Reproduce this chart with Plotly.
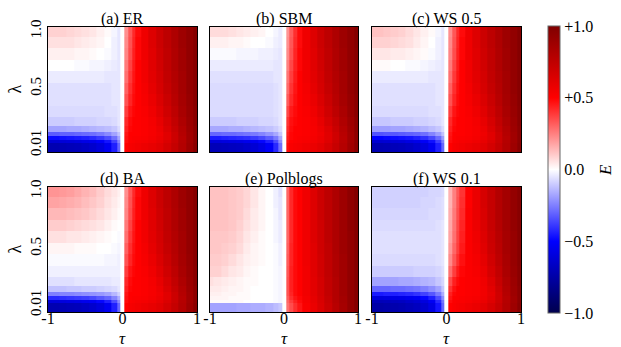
import plotly.graph_objects as go

# ---- data -------------------------------------------------------------
TAU = [-1.0, -0.9, -0.8, -0.7, -0.6, -0.5, -0.4, -0.3, -0.2, -0.1, -0.05, 0.0,
       0.05, 0.1, 0.15, 0.2, 0.3, 0.4, 0.5, 0.6, 0.7, 0.8, 0.9, 1.0]
LAMBDA = [0.01, 0.04, 0.07, 0.1, 0.15, 0.2, 0.3, 0.4, 0.5, 0.6, 0.7, 0.8, 0.9, 1.0]

TITLES = ["(a) ER", "(b) SBM", "(c) WS 0.5", "(d) BA", "(e) Polblogs", "(f) WS 0.1"]
X_TICKS = [-1, 0, 1]
X_TICK_TEXT = ["-1", "0", "1"]
Y_TICKS = [0.01, 0.5, 1.0]
Y_TICK_TEXT = ["0.01", "0.5", "1.0"]
CB_TICKS = [-1.0, -0.5, 0.0, 0.5, 1.0]
CB_TICK_TEXT = ["\u22121.0", "\u22120.5", "0.0", "+0.5", "+1.0"]

# rows: lambda ascending (0.01 ... 1.0); columns: TAU
E_ER = [
    [-0.72,-0.72,-0.71,-0.70,-0.69,-0.67,-0.64,-0.60,-0.54,-0.44,-0.30,0, 0.50,0.53,0.54,0.55,0.57,0.59,0.62,0.67,0.73,0.80,0.88,0.96],
    [-0.62,-0.62,-0.61,-0.60,-0.59,-0.57,-0.55,-0.51,-0.46,-0.37,-0.24,0, 0.48,0.51,0.52,0.53,0.54,0.56,0.59,0.64,0.71,0.79,0.87,0.95],
    [-0.48,-0.48,-0.47,-0.46,-0.45,-0.44,-0.42,-0.39,-0.35,-0.28,-0.18,0, 0.47,0.50,0.51,0.51,0.52,0.54,0.57,0.62,0.70,0.78,0.87,0.95],
    [-0.32,-0.32,-0.31,-0.31,-0.30,-0.29,-0.28,-0.26,-0.23,-0.18,-0.12,0, 0.46,0.50,0.50,0.50,0.51,0.53,0.56,0.62,0.70,0.79,0.87,0.95],
    [-0.18,-0.18,-0.18,-0.17,-0.17,-0.16,-0.15,-0.14,-0.13,-0.11,-0.07,0, 0.44,0.49,0.50,0.50,0.51,0.53,0.57,0.64,0.72,0.80,0.88,0.95],
    [-0.10,-0.10,-0.10,-0.10,-0.09,-0.09,-0.09,-0.08,-0.08,-0.07,-0.05,0, 0.42,0.48,0.50,0.50,0.51,0.54,0.59,0.66,0.74,0.82,0.89,0.96],
    [-0.07,-0.07,-0.07,-0.07,-0.07,-0.07,-0.07,-0.07,-0.06,-0.06,-0.05,0, 0.38,0.46,0.49,0.50,0.52,0.56,0.62,0.69,0.76,0.84,0.90,0.96],
    [-0.06,-0.06,-0.06,-0.06,-0.06,-0.06,-0.06,-0.06,-0.06,-0.05,-0.05,0, 0.34,0.43,0.48,0.50,0.53,0.58,0.64,0.71,0.78,0.85,0.91,0.97],
    [-0.06,-0.06,-0.06,-0.06,-0.06,-0.06,-0.06,-0.06,-0.06,-0.05,-0.05,0, 0.31,0.41,0.47,0.50,0.54,0.60,0.66,0.73,0.79,0.86,0.92,0.97],
    [-0.04,-0.04,-0.04,-0.04,-0.04,-0.04,-0.04,-0.04,-0.05,-0.05,-0.05,0, 0.28,0.39,0.46,0.50,0.55,0.61,0.67,0.74,0.80,0.86,0.92,0.97],
    [ 0.00, 0.00, 0.00, 0.00,-0.01,-0.01,-0.02,-0.02,-0.03,-0.04,-0.05,0, 0.26,0.37,0.45,0.50,0.55,0.62,0.68,0.75,0.81,0.87,0.92,0.97],
    [ 0.03, 0.03, 0.03, 0.03, 0.02, 0.02, 0.01, 0.00,-0.01,-0.03,-0.05,0, 0.24,0.35,0.44,0.49,0.56,0.62,0.69,0.75,0.81,0.87,0.93,0.98],
    [ 0.06, 0.06, 0.06, 0.06, 0.05, 0.04, 0.03, 0.02, 0.00,-0.03,-0.05,0, 0.23,0.34,0.43,0.49,0.56,0.63,0.70,0.76,0.82,0.88,0.93,0.98],
    [ 0.09, 0.09, 0.09, 0.08, 0.07, 0.06, 0.05, 0.03, 0.01,-0.02,-0.05,0, 0.22,0.33,0.42,0.48,0.56,0.63,0.70,0.76,0.82,0.88,0.93,0.98],
]

E_SBM = [
    [-0.70,-0.70,-0.69,-0.68,-0.67,-0.65,-0.62,-0.58,-0.52,-0.42,-0.28,0, 0.48,0.52,0.53,0.54,0.56,0.58,0.61,0.66,0.72,0.79,0.87,0.95],
    [-0.60,-0.60,-0.59,-0.58,-0.57,-0.55,-0.53,-0.49,-0.44,-0.35,-0.22,0, 0.46,0.50,0.51,0.52,0.53,0.55,0.58,0.63,0.70,0.78,0.86,0.94],
    [-0.45,-0.45,-0.44,-0.43,-0.42,-0.41,-0.39,-0.36,-0.32,-0.26,-0.17,0, 0.45,0.49,0.50,0.51,0.52,0.54,0.57,0.62,0.69,0.77,0.86,0.94],
    [-0.30,-0.30,-0.29,-0.29,-0.28,-0.27,-0.26,-0.24,-0.21,-0.17,-0.11,0, 0.44,0.49,0.50,0.50,0.51,0.53,0.56,0.62,0.69,0.78,0.86,0.94],
    [-0.17,-0.17,-0.17,-0.16,-0.16,-0.15,-0.14,-0.13,-0.12,-0.10,-0.07,0, 0.42,0.48,0.50,0.50,0.51,0.53,0.57,0.63,0.71,0.79,0.87,0.95],
    [-0.10,-0.10,-0.10,-0.10,-0.09,-0.09,-0.09,-0.08,-0.08,-0.07,-0.05,0, 0.40,0.47,0.49,0.50,0.51,0.54,0.59,0.66,0.73,0.81,0.88,0.95],
    [-0.07,-0.07,-0.07,-0.07,-0.07,-0.07,-0.07,-0.07,-0.07,-0.06,-0.05,0, 0.36,0.45,0.48,0.50,0.52,0.56,0.62,0.69,0.76,0.83,0.90,0.96],
    [-0.07,-0.07,-0.07,-0.07,-0.07,-0.07,-0.07,-0.07,-0.07,-0.06,-0.05,0, 0.32,0.42,0.47,0.50,0.53,0.58,0.64,0.71,0.78,0.85,0.91,0.96],
    [-0.07,-0.07,-0.07,-0.07,-0.07,-0.07,-0.07,-0.07,-0.07,-0.06,-0.05,0, 0.29,0.40,0.46,0.50,0.54,0.60,0.66,0.73,0.79,0.86,0.92,0.97],
    [-0.06,-0.06,-0.06,-0.06,-0.06,-0.06,-0.06,-0.06,-0.06,-0.05,-0.05,0, 0.27,0.38,0.45,0.50,0.55,0.61,0.67,0.74,0.80,0.86,0.92,0.97],
    [-0.04,-0.04,-0.04,-0.04,-0.04,-0.04,-0.04,-0.04,-0.04,-0.05,-0.05,0, 0.25,0.36,0.44,0.49,0.55,0.62,0.68,0.75,0.81,0.87,0.92,0.97],
    [-0.01,-0.01,-0.01,-0.01,-0.02,-0.02,-0.02,-0.03,-0.03,-0.04,-0.05,0, 0.23,0.34,0.43,0.49,0.56,0.62,0.69,0.75,0.81,0.87,0.93,0.97],
    [ 0.03, 0.03, 0.03, 0.02, 0.02, 0.01, 0.00, 0.00,-0.01,-0.03,-0.04,0, 0.22,0.33,0.42,0.48,0.56,0.63,0.70,0.76,0.82,0.88,0.93,0.98],
    [ 0.07, 0.07, 0.07, 0.06, 0.05, 0.04, 0.03, 0.02, 0.00,-0.02,-0.04,0, 0.21,0.32,0.41,0.48,0.56,0.63,0.70,0.76,0.82,0.88,0.93,0.98],
]

E_WS05 = [
    [-0.72,-0.72,-0.71,-0.70,-0.69,-0.67,-0.64,-0.60,-0.54,-0.44,-0.30,0, 0.50,0.53,0.54,0.55,0.57,0.59,0.62,0.67,0.73,0.80,0.88,0.96],
    [-0.63,-0.63,-0.62,-0.61,-0.60,-0.58,-0.56,-0.52,-0.47,-0.38,-0.25,0, 0.48,0.51,0.52,0.53,0.54,0.56,0.59,0.64,0.71,0.79,0.87,0.95],
    [-0.50,-0.50,-0.49,-0.48,-0.47,-0.46,-0.44,-0.41,-0.36,-0.29,-0.19,0, 0.47,0.50,0.51,0.51,0.52,0.54,0.57,0.62,0.70,0.78,0.87,0.95],
    [-0.34,-0.34,-0.33,-0.33,-0.32,-0.31,-0.30,-0.28,-0.24,-0.19,-0.12,0, 0.46,0.50,0.50,0.50,0.51,0.53,0.56,0.62,0.70,0.79,0.87,0.95],
    [-0.19,-0.19,-0.19,-0.18,-0.18,-0.17,-0.16,-0.15,-0.13,-0.11,-0.07,0, 0.44,0.49,0.50,0.50,0.51,0.53,0.57,0.64,0.72,0.80,0.88,0.95],
    [-0.11,-0.11,-0.11,-0.10,-0.10,-0.10,-0.09,-0.09,-0.08,-0.07,-0.05,0, 0.42,0.48,0.50,0.50,0.51,0.54,0.59,0.66,0.74,0.82,0.89,0.96],
    [-0.07,-0.07,-0.07,-0.07,-0.07,-0.07,-0.07,-0.07,-0.06,-0.06,-0.05,0, 0.38,0.46,0.49,0.50,0.52,0.56,0.62,0.69,0.76,0.84,0.90,0.96],
    [-0.06,-0.06,-0.06,-0.06,-0.06,-0.06,-0.06,-0.06,-0.06,-0.05,-0.05,0, 0.34,0.43,0.48,0.50,0.53,0.58,0.64,0.71,0.78,0.85,0.91,0.97],
    [-0.06,-0.06,-0.06,-0.06,-0.06,-0.06,-0.06,-0.06,-0.06,-0.05,-0.05,0, 0.31,0.41,0.47,0.50,0.54,0.60,0.66,0.73,0.79,0.86,0.92,0.97],
    [-0.04,-0.04,-0.04,-0.04,-0.04,-0.04,-0.04,-0.04,-0.05,-0.05,-0.05,0, 0.28,0.39,0.46,0.50,0.55,0.61,0.67,0.74,0.80,0.86,0.92,0.97],
    [ 0.01, 0.01, 0.01, 0.00, 0.00,-0.01,-0.01,-0.02,-0.03,-0.04,-0.05,0, 0.26,0.37,0.45,0.50,0.55,0.62,0.68,0.75,0.81,0.87,0.92,0.97],
    [ 0.05, 0.05, 0.05, 0.04, 0.04, 0.03, 0.02, 0.01,-0.01,-0.03,-0.05,0, 0.24,0.35,0.44,0.49,0.56,0.62,0.69,0.75,0.81,0.87,0.93,0.98],
    [ 0.09, 0.09, 0.09, 0.08, 0.07, 0.06, 0.04, 0.02, 0.00,-0.03,-0.05,0, 0.23,0.34,0.43,0.49,0.56,0.63,0.70,0.76,0.82,0.88,0.93,0.98],
    [ 0.12, 0.12, 0.11, 0.10, 0.09, 0.07, 0.05, 0.03, 0.01,-0.02,-0.05,0, 0.22,0.33,0.42,0.48,0.56,0.63,0.70,0.76,0.82,0.88,0.93,0.98],
]

E_BA = [
    [-0.72,-0.72,-0.71,-0.70,-0.69,-0.67,-0.64,-0.60,-0.54,-0.44,-0.30,0, 0.50,0.53,0.54,0.55,0.57,0.59,0.62,0.67,0.73,0.80,0.88,0.96],
    [-0.60,-0.60,-0.59,-0.58,-0.57,-0.55,-0.53,-0.49,-0.44,-0.35,-0.23,0, 0.48,0.51,0.52,0.53,0.54,0.56,0.59,0.64,0.71,0.79,0.87,0.95],
    [-0.42,-0.42,-0.41,-0.40,-0.39,-0.38,-0.36,-0.33,-0.30,-0.24,-0.16,0, 0.47,0.50,0.51,0.51,0.52,0.54,0.57,0.62,0.70,0.78,0.87,0.95],
    [-0.25,-0.25,-0.24,-0.24,-0.23,-0.22,-0.21,-0.20,-0.18,-0.14,-0.09,0, 0.46,0.50,0.50,0.50,0.51,0.53,0.56,0.62,0.70,0.79,0.87,0.95],
    [-0.12,-0.12,-0.12,-0.11,-0.11,-0.10,-0.10,-0.09,-0.08,-0.07,-0.05,0, 0.44,0.49,0.50,0.50,0.51,0.53,0.57,0.64,0.72,0.80,0.88,0.95],
    [-0.06,-0.06,-0.06,-0.06,-0.05,-0.05,-0.05,-0.05,-0.05,-0.04,-0.04,0, 0.42,0.48,0.50,0.50,0.51,0.54,0.59,0.66,0.74,0.82,0.89,0.96],
    [-0.03,-0.03,-0.03,-0.03,-0.03,-0.03,-0.03,-0.03,-0.03,-0.03,-0.03,0, 0.38,0.46,0.49,0.50,0.52,0.56,0.62,0.69,0.76,0.84,0.90,0.96],
    [-0.01,-0.01,-0.01,-0.01,-0.01,-0.01,-0.01,-0.01,-0.02,-0.02,-0.03,0, 0.34,0.43,0.48,0.50,0.53,0.58,0.64,0.71,0.78,0.85,0.91,0.97],
    [ 0.02, 0.02, 0.02, 0.02, 0.01, 0.01, 0.01, 0.00, 0.00,-0.01,-0.02,0, 0.31,0.41,0.47,0.50,0.54,0.60,0.66,0.73,0.79,0.86,0.92,0.97],
    [ 0.06, 0.06, 0.06, 0.05, 0.05, 0.04, 0.03, 0.02, 0.01, 0.00,-0.01,0, 0.28,0.39,0.46,0.50,0.55,0.61,0.67,0.74,0.80,0.86,0.92,0.97],
    [ 0.10, 0.10, 0.10, 0.09, 0.08, 0.07, 0.06, 0.05, 0.03, 0.01, 0.00,0, 0.26,0.37,0.45,0.50,0.55,0.62,0.68,0.75,0.81,0.87,0.92,0.97],
    [ 0.14, 0.14, 0.14, 0.13, 0.12, 0.11, 0.09, 0.07, 0.05, 0.03, 0.01,0, 0.24,0.35,0.44,0.49,0.56,0.62,0.69,0.75,0.81,0.87,0.93,0.98],
    [ 0.18, 0.18, 0.17, 0.16, 0.15, 0.13, 0.11, 0.09, 0.06, 0.04, 0.02,0, 0.23,0.34,0.43,0.49,0.56,0.63,0.70,0.76,0.82,0.88,0.93,0.98],
    [ 0.21, 0.21, 0.20, 0.19, 0.17, 0.15, 0.13, 0.10, 0.07, 0.05, 0.03,0, 0.22,0.33,0.42,0.48,0.56,0.63,0.70,0.76,0.82,0.88,0.93,0.98],
]

E_POLBLOGS = [
    [-0.18,-0.18,-0.18,-0.18,-0.17,-0.17,-0.16,-0.16,-0.15,-0.13,-0.11,0, 0.28,0.35,0.41,0.46,0.52,0.58,0.64,0.71,0.78,0.85,0.92,0.98],
    [ 0.01, 0.01, 0.01, 0.01, 0.01, 0.00, 0.00, 0.00, 0.00,-0.01,-0.02,0, 0.30,0.38,0.44,0.48,0.53,0.59,0.65,0.72,0.79,0.86,0.92,0.98],
    [ 0.02, 0.02, 0.02, 0.01, 0.01, 0.01, 0.00, 0.00, 0.00,-0.01,-0.02,0, 0.32,0.41,0.46,0.49,0.54,0.60,0.66,0.73,0.80,0.86,0.93,0.98],
    [ 0.03, 0.03, 0.02, 0.02, 0.01, 0.01, 0.00, 0.00, 0.00,-0.01,-0.02,0, 0.34,0.43,0.48,0.50,0.55,0.61,0.67,0.74,0.80,0.87,0.93,0.98],
    [ 0.04, 0.04, 0.03, 0.02, 0.02, 0.01, 0.00, 0.00, 0.00,-0.01,-0.02,0, 0.34,0.44,0.48,0.50,0.55,0.61,0.67,0.74,0.80,0.87,0.93,0.98],
    [ 0.06, 0.05, 0.04, 0.03, 0.02, 0.01, 0.01, 0.00, 0.00,-0.01,-0.02,0, 0.34,0.44,0.48,0.50,0.55,0.61,0.67,0.74,0.80,0.87,0.93,0.98],
    [ 0.09, 0.09, 0.07, 0.05, 0.04, 0.02, 0.01, 0.00, 0.00,-0.01,-0.02,0, 0.33,0.44,0.48,0.50,0.55,0.62,0.68,0.75,0.81,0.87,0.93,0.98],
    [ 0.10, 0.10, 0.09, 0.07, 0.05, 0.03, 0.02, 0.01, 0.00,-0.01,-0.03,0, 0.32,0.43,0.48,0.50,0.56,0.62,0.68,0.75,0.81,0.87,0.93,0.98],
    [ 0.11, 0.11, 0.10, 0.09, 0.07, 0.04, 0.02, 0.01, 0.00,-0.01,-0.03,0, 0.31,0.43,0.48,0.50,0.56,0.62,0.69,0.75,0.82,0.88,0.93,0.98],
    [ 0.11, 0.11, 0.11, 0.10, 0.08, 0.05, 0.03, 0.01, 0.00,-0.02,-0.04,0, 0.30,0.42,0.48,0.50,0.56,0.63,0.69,0.76,0.82,0.88,0.93,0.98],
    [ 0.12, 0.12, 0.12, 0.11, 0.09, 0.06, 0.04, 0.02, 0.00,-0.02,-0.04,0, 0.30,0.42,0.48,0.50,0.56,0.63,0.69,0.76,0.82,0.88,0.94,0.98],
    [ 0.12, 0.12, 0.12, 0.11, 0.10, 0.07, 0.04, 0.02, 0.00,-0.02,-0.05,0, 0.30,0.42,0.48,0.50,0.56,0.63,0.70,0.76,0.82,0.88,0.94,0.99],
    [ 0.12, 0.12, 0.12, 0.11, 0.10, 0.08, 0.05, 0.02, 0.00,-0.03,-0.05,0, 0.30,0.42,0.48,0.50,0.56,0.63,0.70,0.76,0.82,0.88,0.94,0.99],
    [ 0.12, 0.12, 0.12, 0.11, 0.10, 0.08, 0.05, 0.02, 0.00,-0.03,-0.06,0, 0.30,0.42,0.48,0.50,0.56,0.63,0.70,0.76,0.82,0.88,0.94,0.99],
]

E_WS01 = [
    [-0.75,-0.75,-0.74,-0.73,-0.72,-0.70,-0.68,-0.64,-0.58,-0.46,-0.30,0, 0.50,0.52,0.53,0.54,0.56,0.58,0.61,0.66,0.72,0.80,0.88,0.96],
    [-0.70,-0.70,-0.69,-0.68,-0.67,-0.65,-0.63,-0.59,-0.53,-0.42,-0.27,0, 0.48,0.51,0.52,0.52,0.53,0.55,0.58,0.63,0.70,0.79,0.87,0.95],
    [-0.60,-0.60,-0.59,-0.58,-0.57,-0.55,-0.53,-0.49,-0.44,-0.35,-0.22,0, 0.46,0.50,0.50,0.51,0.52,0.53,0.56,0.61,0.69,0.78,0.87,0.95],
    [-0.45,-0.45,-0.44,-0.44,-0.43,-0.42,-0.40,-0.37,-0.33,-0.26,-0.16,0, 0.44,0.49,0.50,0.50,0.51,0.52,0.55,0.60,0.69,0.79,0.88,0.95],
    [-0.30,-0.30,-0.30,-0.29,-0.29,-0.28,-0.27,-0.25,-0.22,-0.18,-0.11,0, 0.40,0.47,0.50,0.50,0.51,0.52,0.55,0.61,0.70,0.80,0.88,0.95],
    [-0.18,-0.18,-0.18,-0.18,-0.17,-0.17,-0.16,-0.15,-0.14,-0.11,-0.08,0, 0.35,0.44,0.48,0.50,0.51,0.52,0.56,0.63,0.72,0.81,0.89,0.96],
    [-0.10,-0.10,-0.10,-0.10,-0.10,-0.10,-0.09,-0.09,-0.09,-0.08,-0.06,0, 0.28,0.38,0.45,0.49,0.51,0.53,0.58,0.66,0.74,0.83,0.90,0.96],
    [-0.07,-0.07,-0.07,-0.07,-0.07,-0.07,-0.07,-0.07,-0.07,-0.06,-0.05,0, 0.23,0.33,0.41,0.47,0.51,0.54,0.60,0.68,0.76,0.84,0.91,0.97],
    [-0.06,-0.06,-0.06,-0.06,-0.06,-0.06,-0.06,-0.06,-0.06,-0.06,-0.05,0, 0.20,0.30,0.38,0.45,0.51,0.55,0.62,0.70,0.77,0.85,0.91,0.97],
    [-0.06,-0.06,-0.06,-0.06,-0.06,-0.06,-0.06,-0.06,-0.06,-0.06,-0.05,0, 0.18,0.28,0.37,0.44,0.51,0.56,0.63,0.71,0.78,0.85,0.91,0.97],
    [-0.07,-0.07,-0.07,-0.07,-0.07,-0.07,-0.07,-0.07,-0.07,-0.06,-0.05,0, 0.17,0.27,0.36,0.43,0.51,0.57,0.64,0.72,0.79,0.86,0.92,0.97],
    [-0.08,-0.08,-0.08,-0.08,-0.08,-0.08,-0.08,-0.08,-0.07,-0.07,-0.06,0, 0.16,0.26,0.35,0.42,0.51,0.58,0.65,0.73,0.80,0.86,0.92,0.97],
    [-0.09,-0.09,-0.09,-0.09,-0.09,-0.09,-0.09,-0.08,-0.08,-0.07,-0.06,0, 0.15,0.25,0.34,0.41,0.50,0.58,0.66,0.73,0.80,0.86,0.92,0.97],
    [-0.09,-0.09,-0.09,-0.09,-0.09,-0.09,-0.09,-0.09,-0.08,-0.08,-0.07,0, 0.15,0.25,0.33,0.40,0.50,0.58,0.66,0.73,0.80,0.86,0.92,0.97],
]

PANELS = [E_ER, E_SBM, E_WS05, E_BA, E_POLBLOGS, E_WS01]

# ---- layout helpers (pixel geometry of the page) ----------------------
W, H = 621, 347
COL_PX = [(48, 197), (210, 358), (372, 521)]
ROW_PX = [(27, 152), (187, 312)]
Y_LO, Y_HI = -0.05, 1.035

def px_x(p):
    return p / W

def px_y(p):
    return 1 - p / H

# row edges for the heatmap cells
mids = [(a + b) / 2 for a, b in zip(LAMBDA[:-1], LAMBDA[1:])]
Y_EDGES = [Y_LO] + mids + [Y_HI]

SEISMIC = [[0.0, "rgb(0,0,77)"], [0.25, "rgb(0,0,255)"], [0.5, "rgb(255,255,255)"],
           [0.75, "rgb(255,0,0)"], [1.0, "rgb(128,0,0)"]]

FONT = "Liberation Serif"

fig = go.Figure()
annotations = []
for i, z in enumerate(PANELS):
    r, c = divmod(i, 3)
    ax = "" if i == 0 else str(i + 1)
    fig.add_trace(go.Heatmap(
        x=TAU, y=Y_EDGES, z=z, coloraxis="coloraxis",
        xaxis="x" + ax, yaxis="y" + ax, hoverinfo="skip"))
    x0, x1 = COL_PX[c]
    y0, y1 = ROW_PX[r]
    xa = dict(domain=[px_x(x0), px_x(x1)], range=[-1, 1], anchor="y" + ax,
              showline=True, mirror=True, linecolor="black", linewidth=1,
              showgrid=False, zeroline=False, ticks="",
              tickvals=X_TICKS, ticktext=X_TICK_TEXT,
              showticklabels=(r == 1), automargin=False, ticklabelstandoff=-8,
              tickfont=dict(family=FONT, size=16, color="black"))
    ya = dict(domain=[px_y(y1), px_y(y0)], range=[Y_LO, Y_HI], anchor="x" + ax,
              showline=True, mirror=True, linecolor="black", linewidth=1,
              showgrid=False, zeroline=False, ticks="",
              tickvals=Y_TICKS, ticktext=Y_TICK_TEXT, tickangle=-90,
              showticklabels=(c == 0), automargin=False,
              tickfont=dict(family=FONT, size=15, color="black"))
    fig.layout["xaxis" + ax] = xa
    fig.layout["yaxis" + ax] = ya
    annotations.append(dict(
        text=TITLES[i], x=px_x((x0 + x1) / 2), y=px_y(y0), xref="paper", yref="paper",
        xanchor="center", yanchor="bottom", showarrow=False, yshift=-3,
        font=dict(family=FONT, size=16, color="black")))
    if c == 0:
        annotations.append(dict(
            text="\u03bb", x=px_x(15), y=px_y((y0 + y1) / 2), xref="paper", yref="paper",
            xanchor="center", yanchor="middle", showarrow=False, textangle=-90,
            font=dict(family=FONT, size=18, color="black")))
    if r == 1:
        annotations.append(dict(
            text="<i>\u03c4</i>", x=px_x((x0 + x1) / 2), y=px_y(338), xref="paper", yref="paper",
            xanchor="center", yanchor="middle", showarrow=False,
            font=dict(family=FONT, size=17, color="black")))

annotations.append(dict(
    text="<i>E</i>", x=px_x(606), y=px_y(170), xref="paper", yref="paper",
    xanchor="center", yanchor="middle", showarrow=False, textangle=-90,
    font=dict(family=FONT, size=17, color="black")))

fig.update_layout(
    width=W, height=H, margin=dict(l=0, r=0, t=0, b=0, autoexpand=False),
    paper_bgcolor="white", plot_bgcolor="white", showlegend=False,
    annotations=annotations,
    coloraxis=dict(
        colorscale=SEISMIC, cmin=-1, cmax=1,
        colorbar=dict(
            x=px_x(548), xanchor="left", y=px_y(169.5), yanchor="middle",
            thickness=12, thicknessmode="pixels", len=287, lenmode="pixels",
            xpad=0, ypad=0, outlinecolor="#666", outlinewidth=1,
            tickvals=CB_TICKS, ticktext=CB_TICK_TEXT, ticks="",
            tickfont=dict(family=FONT, size=16, color="black"))),
)

fig.write_html("out.html", config={"displayModeBar": False},
               post_script="document.body.style.margin='0';")
